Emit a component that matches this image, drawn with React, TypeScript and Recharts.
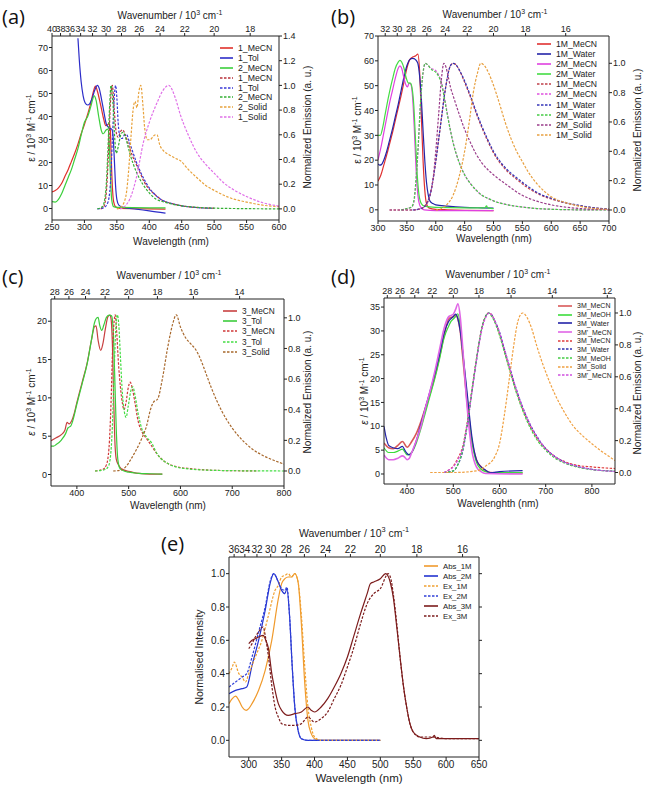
import React from 'react';
import { LineChart, Line, XAxis, YAxis } from 'recharts';

type Pt = [number, number];

const FONT = '"Liberation Sans", Arial, sans-serif';

// ---------- (a) ----------
const aXTicks = [250, 300, 350, 400, 450, 500, 550, 600];
const aLTicks = [0, 10, 20, 30, 40, 50, 60, 70];
const aRTicks = [0, 0.2, 0.4, 0.6, 0.8, 1.0, 1.2, 1.4];
const aWn = [40, 38, 36, 34, 32, 30, 28, 26, 24, 22, 20, 18];

const aAbs1MeCN: Pt[] = [[250, 7.2], [255, 7.8], [260, 9], [265, 11], [270, 14], [275, 17], [280, 20.5], [285, 24], [290, 28], [295, 32.5], [300, 36.5], [305, 41], [310, 46], [314, 51], [317, 53.2], [320, 51], [325, 45], [330, 38.5], [333, 36], [336, 36.5], [338, 37], [340, 34], [341, 25], [343, 10], [345, 3], [348, 0.8], [355, 0], [380, -0.1], [425, -0.3]];
const aAbs1Tol: Pt[] = [[290, 74], [292, 65], [295, 55], [298, 49], [301, 46], [305, 45], [308, 45.5], [312, 48], [316, 51.5], [320, 53.5], [323, 52], [326, 48], [330, 42], [334, 36.5], [338, 35], [342, 34.5], [344, 32], [346, 22], [348, 10], [350, 4], [353, 1.5], [360, 0.5], [380, -0.3], [400, -1], [425, -2]];
const aAbs2MeCN: Pt[] = [[250, 3], [255, 2.8], [260, 4], [265, 6.5], [270, 10], [275, 13.5], [280, 17], [285, 21.5], [290, 26], [295, 32], [300, 37.5], [305, 40], [310, 44.5], [315, 49], [318, 47], [322, 40], [326, 34], [329, 32.5], [333, 34], [336, 34.5], [338, 30], [340, 15], [342, 4], [345, 0.8], [350, 0.5], [400, 0.3], [425, 0.3]];
const aEm1MeCN: Pt[] = [[325, 0], [330, 0.02], [334, 0.15], [337, 0.45], [340, 0.85], [343, 1.0], [346, 0.8], [349, 0.62], [352, 0.58], [356, 0.63], [359, 0.64], [363, 0.6], [368, 0.52], [374, 0.43], [380, 0.36], [386, 0.29], [392, 0.22], [400, 0.16], [410, 0.11], [420, 0.07], [430, 0.05], [450, 0.025], [475, 0.01], [500, 0.005]];
const aEm1Tol: Pt[] = [[320, 0], [330, 0.01], [336, 0.05], [340, 0.2], [343, 0.55], [346, 0.9], [348, 1.0], [350, 0.9], [352, 0.7], [355, 0.58], [358, 0.57], [362, 0.6], [365, 0.6], [370, 0.53], [380, 0.38], [390, 0.26], [400, 0.17], [410, 0.11], [420, 0.07], [430, 0.05], [450, 0.025], [475, 0.01], [500, 0.005]];
const aEm2MeCN: Pt[] = [[320, 0], [328, 0.02], [333, 0.15], [336, 0.45], [339, 0.85], [341, 1.0], [344, 0.85], [347, 0.55], [349, 0.45], [352, 0.5], [356, 0.6], [359, 0.62], [362, 0.6], [366, 0.53], [370, 0.45], [380, 0.3], [390, 0.2], [400, 0.13], [410, 0.08], [420, 0.06], [430, 0.045], [450, 0.025], [475, 0.012], [500, 0.006], [550, 0.002], [600, 0]];
const aEm2Solid: Pt[] = [[350, 0], [355, 0.01], [360, 0.04], [365, 0.14], [368, 0.3], [372, 0.6], [375, 0.8], [378, 0.87], [381, 0.82], [384, 0.95], [387, 1.0], [390, 0.85], [393, 0.65], [397, 0.56], [401, 0.56], [405, 0.58], [409, 0.6], [412, 0.6], [416, 0.52], [422, 0.47], [430, 0.44], [440, 0.41], [448, 0.39], [460, 0.32], [474, 0.25], [487, 0.19], [500, 0.15], [515, 0.11], [530, 0.08], [550, 0.055], [575, 0.03], [600, 0.018]];
const aEm1Solid: Pt[] = [[355, 0], [362, 0.02], [370, 0.08], [380, 0.25], [391, 0.54], [400, 0.7], [412, 0.86], [420, 0.95], [430, 1.0], [440, 0.9], [448, 0.76], [460, 0.6], [474, 0.45], [487, 0.36], [500, 0.29], [515, 0.21], [530, 0.155], [550, 0.1], [575, 0.05], [600, 0.022]];

// ---------- (b) ----------
const bXTicks = [300, 350, 400, 450, 500, 550, 600, 650, 700];
const bLTicks = [0, 10, 20, 30, 40, 50, 60, 70];
const bRTicks = [0, 0.2, 0.4, 0.6, 0.8, 1.0];
const bWn = [32, 30, 28, 26, 24, 22, 20, 18, 16];

const bAbs1MMeCN: Pt[] = [[300, 11.5], [305, 14], [310, 18], [315, 22], [320, 26.5], [325, 31], [330, 36], [335, 41], [340, 46], [345, 51.5], [350, 57], [355, 60.5], [360, 61.5], [365, 62], [369, 62.7], [372, 56], [375, 38], [378, 20], [381, 8], [384, 2.5], [388, 0.8], [400, 0.2], [420, 0], [450, -0.2], [500, -0.3]];
const bAbs1MWater: Pt[] = [[300, 18.5], [303, 18], [306, 18.2], [310, 20], [315, 23.5], [320, 28], [325, 32.5], [330, 37.5], [335, 42.5], [340, 48], [345, 53.5], [350, 58], [355, 60.5], [360, 61], [365, 60.5], [369, 59], [372, 54], [375, 45], [378, 32], [381, 20], [384, 11], [387, 6], [390, 3.5], [395, 2.5], [400, 2], [420, 1.5], [450, 1], [480, 0.8], [500, 0.7]];
const bAbs2MMeCN: Pt[] = [[300, 20], [305, 25], [310, 31], [315, 37], [320, 43], [325, 48], [330, 53], [335, 57], [338, 58], [341, 57], [345, 53], [348, 50.5], [351, 49.5], [354, 51], [357, 50.5], [360, 45], [363, 32], [366, 16], [369, 6], [372, 2], [376, 0.5], [380, 0], [400, -0.3], [500, -0.3]];
const bAbs2MWater: Pt[] = [[300, 30], [304, 30], [308, 33], [312, 38], [316, 43], [320, 47.5], [325, 52.5], [330, 57], [335, 59.5], [338, 60.2], [341, 59.5], [345, 57], [349, 53], [353, 51], [356, 51], [359, 49], [362, 42], [365, 28], [368, 14], [371, 6], [375, 2.5], [380, 1.5], [400, 1], [450, 0.8], [485, 0.8], [488, 1.6], [490, 0.8], [500, 0.5]];
const bEm1MMeCN: Pt[] = [[320, 0], [360, 0], [375, 0.01], [385, 0.05], [390, 0.1], [395, 0.2], [400, 0.33], [405, 0.48], [410, 0.63], [415, 0.78], [420, 0.9], [425, 0.98], [430, 1.0], [435, 0.99], [440, 0.96], [450, 0.87], [460, 0.77], [470, 0.66], [480, 0.56], [490, 0.47], [500, 0.39], [520, 0.28], [540, 0.21], [560, 0.15], [580, 0.105], [600, 0.075], [625, 0.048], [650, 0.028], [675, 0.014], [700, 0.006]];
const bEm2MMeCN: Pt[] = [[340, 0], [350, 0.01], [358, 0.02], [362, 0.05], [366, 0.2], [370, 0.45], [374, 0.75], [378, 0.93], [382, 1.0], [386, 0.99], [390, 0.97], [395, 0.96], [400, 0.95], [405, 0.92], [410, 0.87], [415, 0.77], [420, 0.66], [425, 0.55], [430, 0.46], [440, 0.33], [450, 0.24], [460, 0.18], [470, 0.135], [480, 0.1], [490, 0.08], [500, 0.062], [525, 0.035], [550, 0.02], [575, 0.01], [600, 0.005], [650, 0.001], [700, 0]];
const bEm1MWater: Pt[] = [[360, 0], [375, 0.01], [385, 0.05], [390, 0.1], [395, 0.2], [400, 0.33], [405, 0.48], [410, 0.63], [415, 0.78], [420, 0.9], [425, 0.98], [430, 1.0], [435, 0.99], [440, 0.96], [450, 0.88], [460, 0.78], [470, 0.67], [480, 0.57], [490, 0.48], [500, 0.4], [520, 0.29], [540, 0.22], [560, 0.16], [580, 0.11], [600, 0.08], [625, 0.05], [650, 0.03], [675, 0.015], [700, 0.006]];
const bEm2MWater: Pt[] = [[340, 0], [350, 0.01], [358, 0.02], [362, 0.06], [366, 0.22], [370, 0.47], [374, 0.76], [378, 0.94], [382, 1.0], [386, 0.99], [390, 0.97], [395, 0.95], [400, 0.94], [405, 0.91], [410, 0.86], [415, 0.76], [420, 0.65], [425, 0.55], [430, 0.46], [440, 0.33], [450, 0.24], [460, 0.18], [470, 0.135], [480, 0.1], [490, 0.08], [500, 0.062], [525, 0.035], [550, 0.02], [575, 0.01], [600, 0.005], [650, 0.001], [700, 0]];
const bEm2MSolid: Pt[] = [[320, 0], [360, 0], [370, 0.005], [380, 0.02], [390, 0.1], [395, 0.2], [400, 0.4], [405, 0.65], [410, 0.9], [414, 1.0], [418, 0.97], [422, 0.9], [426, 0.83], [430, 0.78], [440, 0.66], [450, 0.55], [460, 0.46], [470, 0.38], [480, 0.32], [500, 0.24], [520, 0.18], [550, 0.1], [575, 0.06], [600, 0.035], [650, 0.01], [700, 0.003]];
const bEm1MSolid: Pt[] = [[400, 0], [410, 0.01], [420, 0.04], [430, 0.1], [440, 0.22], [450, 0.4], [458, 0.6], [465, 0.8], [472, 0.93], [478, 1.0], [485, 0.98], [492, 0.93], [500, 0.85], [510, 0.73], [520, 0.6], [530, 0.49], [540, 0.4], [550, 0.33], [560, 0.26], [575, 0.18], [590, 0.12], [600, 0.09], [625, 0.05], [650, 0.025], [675, 0.01], [700, 0.004]];

// ---------- (c) ----------
const cXTicks = [400, 500, 600, 700, 800];
const cLTicks = [0, 5, 10, 15, 20];
const cRTicks = [0, 0.2, 0.4, 0.6, 0.8, 1.0];
const cWn = [28, 26, 24, 22, 20, 18, 16, 14];

const cAbs3MeCN: Pt[] = [[350, 4.4], [360, 4.8], [370, 5.2], [377, 5.8], [381, 6.8], [385, 6.6], [390, 7.0], [395, 8], [400, 9.4], [410, 12], [420, 14.6], [428, 17.5], [434, 19.3], [437, 19.4], [441, 17.5], [446, 16.2], [450, 17], [455, 19], [460, 20.6], [464, 20.8], [466, 20.3], [469, 16], [471, 10], [473, 5], [476, 2], [480, 1.3], [485, 0.8], [490, 0.6], [500, 0.4], [510, 0.25], [520, 0.15], [540, 0.05], [565, 0.05]];
const cAbs3Tol: Pt[] = [[350, 3.7], [355, 3.7], [360, 3.9], [370, 4.5], [378, 5.3], [383, 6.1], [388, 6.3], [392, 7], [400, 9.2], [410, 11.8], [420, 14.5], [428, 17.5], [434, 19.8], [438, 20.4], [441, 20.5], [444, 19.5], [448, 18.8], [452, 19.5], [457, 20.5], [462, 20.8], [467, 20.7], [470, 19], [473, 13], [476, 6], [479, 2], [483, 0.8], [490, 0.5], [500, 0.3], [520, 0.15], [540, 0.1], [565, 0.05]];
const cEm3MeCN: Pt[] = [[435, 0], [450, 0.01], [457, 0.04], [462, 0.15], [466, 0.45], [469, 0.8], [472, 0.98], [474, 1.02], [477, 0.9], [480, 0.72], [484, 0.55], [488, 0.44], [491, 0.4], [495, 0.45], [499, 0.54], [503, 0.58], [507, 0.54], [512, 0.45], [518, 0.33], [525, 0.26], [535, 0.21], [545, 0.16], [555, 0.11], [570, 0.06], [590, 0.03], [620, 0.015], [660, 0.005], [700, 0.002], [750, 0]];
const cEm3Tol: Pt[] = [[435, 0], [455, 0.01], [462, 0.04], [468, 0.25], [472, 0.65], [475, 0.92], [478, 1.02], [481, 0.95], [484, 0.75], [488, 0.5], [492, 0.38], [495, 0.35], [499, 0.42], [504, 0.52], [508, 0.55], [512, 0.5], [518, 0.38], [525, 0.28], [535, 0.22], [545, 0.18], [552, 0.13], [560, 0.09], [575, 0.05], [600, 0.02], [650, 0.006], [700, 0.002], [800, 0]];
const cEm3Solid: Pt[] = [[470, 0], [485, 0.005], [495, 0.03], [505, 0.08], [515, 0.14], [525, 0.21], [535, 0.3], [542, 0.4], [548, 0.45], [556, 0.47], [565, 0.6], [575, 0.8], [585, 0.96], [592, 1.02], [600, 0.94], [610, 0.87], [620, 0.83], [630, 0.79], [640, 0.72], [650, 0.63], [660, 0.54], [670, 0.46], [680, 0.39], [700, 0.28], [720, 0.2], [740, 0.14], [760, 0.1], [780, 0.07], [800, 0.045]];

// ---------- (d) ----------
const dXTicks = [400, 500, 600, 700, 800];
const dLTicks = [0, 5, 10, 15, 20, 25, 30, 35];
const dRTicks = [0, 0.2, 0.4, 0.6, 0.8, 1.0];
const dWn = [28, 26, 24, 22, 20, 18, 16, 14, 12];

const dAbs3MMeCN: Pt[] = [[350, 6.5], [360, 5.5], [370, 5.3], [380, 6], [390, 6.8], [400, 5.6], [410, 6.8], [420, 8.5], [430, 11], [440, 14], [450, 17], [460, 20.5], [470, 24.5], [480, 29], [490, 32.5], [500, 33], [505, 33.3], [510, 32.5], [515, 30], [520, 25], [530, 15], [540, 7], [550, 3], [560, 1.5], [570, 0.7], [580, 0.3], [600, 0.2], [650, 0.2]];
const dAbs3MMeOH: Pt[] = [[350, 5.5], [360, 4.5], [370, 4.5], [380, 4.8], [390, 5.2], [400, 4], [410, 4.5], [420, 6.5], [430, 9.5], [440, 13], [450, 16.5], [460, 20], [470, 24], [480, 28.5], [490, 31], [495, 32], [500, 32.5], [505, 33], [510, 33.6], [515, 31], [520, 26], [530, 16], [540, 7], [550, 2.5], [560, 1], [570, 0.5], [580, 0.3], [650, 0.3]];
const dAbs3MWater: Pt[] = [[350, 10], [355, 7.5], [360, 6], [370, 5.5], [380, 5.3], [390, 5.8], [395, 5], [400, 4.3], [405, 4], [410, 4.5], [420, 7], [430, 10.5], [440, 14], [450, 17.5], [460, 21], [470, 25], [480, 29.5], [490, 32], [500, 33], [505, 33.5], [510, 32.5], [515, 30], [520, 26], [530, 17], [540, 8], [550, 3], [560, 1.5], [570, 0.8], [580, 0.3], [600, 0.5], [650, 0.7]];
const dAbs3pMeCN: Pt[] = [[350, 4], [360, 3], [370, 3], [380, 3.3], [390, 3.8], [395, 3.5], [400, 3], [405, 3.3], [410, 4.5], [420, 7], [430, 10], [440, 14], [450, 17.5], [460, 21.5], [470, 26], [480, 30.5], [490, 33], [500, 33.5], [505, 34.5], [510, 35.7], [515, 33], [520, 27], [530, 14], [540, 5], [550, 1.5], [560, 0.5], [570, 0.1], [650, 0]];
const dEm3MMeCN: Pt[] = [[480, 0], [490, 0.015], [500, 0.04], [510, 0.09], [520, 0.16], [530, 0.31], [540, 0.51], [550, 0.71], [560, 0.88], [570, 0.98], [577, 1.0], [585, 0.98], [590, 0.95], [600, 0.87], [610, 0.77], [620, 0.67], [630, 0.57], [640, 0.48], [650, 0.4], [660, 0.33], [670, 0.27], [680, 0.22], [700, 0.15], [720, 0.1], [740, 0.07], [760, 0.05], [800, 0.035], [850, 0.025]];
const dEm3MWater: Pt[] = [[480, 0], [500, 0.01], [510, 0.05], [520, 0.13], [530, 0.29], [540, 0.5], [550, 0.7], [560, 0.88], [570, 0.98], [577, 1.0], [585, 0.98], [590, 0.95], [600, 0.88], [610, 0.78], [620, 0.68], [630, 0.58], [640, 0.49], [650, 0.41], [660, 0.34], [670, 0.28], [680, 0.23], [700, 0.15], [720, 0.1], [740, 0.065], [760, 0.045], [800, 0.02], [850, 0.008]];
const dEm3MMeOH: Pt[] = [[480, 0], [500, 0.01], [510, 0.05], [520, 0.14], [530, 0.3], [540, 0.51], [550, 0.71], [560, 0.88], [570, 0.98], [576, 1.0], [585, 0.97], [590, 0.94], [600, 0.86], [610, 0.76], [620, 0.66], [630, 0.56], [640, 0.47], [650, 0.39], [660, 0.32], [670, 0.26], [680, 0.21], [700, 0.14], [720, 0.09], [740, 0.06], [760, 0.04], [800, 0.018], [850, 0.008]];
const dEm3MSolid: Pt[] = [[450, 0], [500, 0], [550, 0.01], [570, 0.04], [590, 0.1], [600, 0.18], [610, 0.35], [620, 0.56], [630, 0.78], [640, 0.95], [650, 1.0], [660, 0.97], [670, 0.9], [680, 0.8], [690, 0.71], [700, 0.63], [720, 0.49], [740, 0.38], [760, 0.29], [780, 0.23], [800, 0.18], [820, 0.135], [840, 0.095], [850, 0.075]];
const dEm3pMeCN: Pt[] = [[480, 0], [490, 0.015], [500, 0.035], [510, 0.08], [520, 0.15], [530, 0.3], [540, 0.5], [550, 0.7], [560, 0.87], [570, 0.97], [578, 1.0], [585, 0.98], [590, 0.95], [600, 0.88], [610, 0.78], [620, 0.68], [630, 0.58], [640, 0.49], [650, 0.41], [660, 0.34], [670, 0.28], [680, 0.23], [700, 0.15], [720, 0.1], [740, 0.065], [760, 0.045], [800, 0.02], [850, 0.006]];

// ---------- (e) ----------
const eXTicks = [300, 350, 400, 450, 500, 550, 600, 650];
const eYTicks = [0, 0.2, 0.4, 0.6, 0.8, 1.0];
const eWn = [36, 34, 32, 30, 28, 26, 24, 22, 20, 18, 16];

const eAbs1M: Pt[] = [[270, 0.22], [275, 0.25], [280, 0.265], [285, 0.24], [290, 0.2], [296, 0.18], [300, 0.19], [305, 0.22], [315, 0.3], [325, 0.42], [335, 0.6], [345, 0.85], [350, 0.94], [355, 0.97], [360, 0.98], [365, 0.98], [370, 1.0], [375, 0.95], [380, 0.7], [385, 0.35], [390, 0.12], [395, 0.04], [400, 0.01], [410, 0], [500, 0]];
const eAbs2M: Pt[] = [[270, 0.28], [280, 0.3], [290, 0.31], [297, 0.32], [305, 0.45], [315, 0.6], [325, 0.78], [333, 0.95], [338, 1.0], [345, 0.95], [350, 0.9], [355, 0.88], [358, 0.91], [362, 0.75], [366, 0.45], [370, 0.2], [375, 0.06], [380, 0.01], [390, 0], [500, 0]];
const eEx1M: Pt[] = [[270, 0.4], [275, 0.44], [278, 0.47], [285, 0.4], [290, 0.38], [295, 0.35], [300, 0.4], [310, 0.5], [320, 0.6], [330, 0.75], [340, 0.9], [345, 0.93], [350, 0.98], [355, 0.99], [360, 1.0], [365, 0.98], [370, 1.0], [375, 0.95], [380, 0.75], [385, 0.45], [390, 0.2], [395, 0.08], [400, 0.02], [410, 0], [500, 0]];
const eEx2M: Pt[] = [[270, 0.32], [280, 0.35], [290, 0.38], [297, 0.4], [305, 0.5], [315, 0.65], [325, 0.8], [333, 0.96], [338, 1.0], [345, 0.95], [350, 0.91], [355, 0.9], [358, 0.92], [362, 0.75], [366, 0.45], [370, 0.2], [375, 0.06], [380, 0.01], [390, 0], [500, 0]];
const eAbs3M: Pt[] = [[300, 0.58], [305, 0.6], [310, 0.61], [315, 0.62], [322, 0.63], [326, 0.6], [330, 0.55], [335, 0.4], [340, 0.3], [345, 0.22], [350, 0.18], [360, 0.15], [370, 0.16], [380, 0.17], [390, 0.2], [395, 0.18], [400, 0.17], [410, 0.2], [420, 0.25], [430, 0.32], [440, 0.4], [450, 0.5], [460, 0.63], [470, 0.76], [480, 0.88], [485, 0.94], [490, 0.95], [500, 0.97], [508, 1.0], [515, 0.95], [520, 0.85], [525, 0.68], [530, 0.5], [535, 0.33], [540, 0.2], [545, 0.1], [550, 0.05], [560, 0.02], [570, 0.01], [580, 0.02], [582, 0.03], [585, 0.01], [600, 0.01], [650, 0.01]];
const eEx3M: Pt[] = [[300, 0.55], [305, 0.58], [310, 0.62], [315, 0.65], [322, 0.68], [325, 0.63], [330, 0.5], [335, 0.33], [340, 0.2], [345, 0.14], [350, 0.1], [360, 0.09], [370, 0.09], [380, 0.1], [390, 0.14], [400, 0.11], [410, 0.13], [420, 0.17], [430, 0.25], [440, 0.33], [450, 0.44], [460, 0.56], [470, 0.7], [480, 0.82], [490, 0.88], [500, 0.91], [512, 1.0], [516, 0.97], [520, 0.87], [525, 0.7], [530, 0.5], [535, 0.33], [540, 0.2], [545, 0.1], [550, 0.05], [560, 0.02], [580, 0.02], [600, 0.01], [650, 0.01]];

interface Series { name: string; data: Pt[]; color: string; dash?: boolean; axis: 'L' | 'R'; width?: number }
interface Title { text: React.ReactNode; x: number; y: number; rot?: number; size: number }
interface Panel {
  letter: string; letterPos: [number, number];
  box: [number, number, number, number];
  x: [number, number]; xTicks: number[];
  yL: [number, number]; yLTicks: number[];
  yR: [number, number]; yRTicks: number[]; rightLabels: boolean;
  wn: number[];
  tick: number;
  series: Series[];
  legend: { x: number; y: number; step: number; size: number; len: number };
  titles: Title[];
}

const sup = (s: string) => <sup style={{ fontSize: '70%', lineHeight: 0 }}>{s}</sup>;
const wnTitle = <span>Wavenumber / 10{sup('3')} cm{sup('-1')}</span>;
const epsTitle = (italic: boolean) => (
  <span><span style={{ fontStyle: italic ? 'italic' : 'normal' }}>ε</span> / 10{sup('3')} M{sup('-1')} cm{sup('-1')}</span>
);

const panels: Panel[] = [
  {
    letter: '(a)', letterPos: [2, 3], box: [52, 36, 279, 220],
    x: [250, 600], xTicks: aXTicks, yL: [-5, 75], yLTicks: aLTicks, yR: [-0.09, 1.4], yRTicks: aRTicks, rightLabels: true,
    wn: aWn, tick: 9,
    series: [
      { name: '1_MeCN', data: aAbs1MeCN, color: '#e0302a', axis: 'L' },
      { name: '1_Tol', data: aAbs1Tol, color: '#2c2cc8', axis: 'L' },
      { name: '2_MeCN', data: aAbs2MeCN, color: '#3ccf3c', axis: 'L' },
      { name: '1_MeCN', data: aEm1MeCN, color: '#b8303a', dash: true, axis: 'R' },
      { name: '1_Tol', data: aEm1Tol, color: '#3a3ad8', dash: true, axis: 'R' },
      { name: '2_MeCN', data: aEm2MeCN, color: '#34b034', dash: true, axis: 'R' },
      { name: '2_Solid', data: aEm2Solid, color: '#e8a23c', dash: true, axis: 'R' },
      { name: '1_Solid', data: aEm1Solid, color: '#e070e8', dash: true, axis: 'R' },
    ],
    legend: { x: 220, y: 48, step: 9.9, size: 8.7, len: 13 },
    titles: [
      { text: wnTitle, x: 170, y: 16, size: 10 },
      { text: 'Wavelength (nm)', x: 171, y: 242, size: 10 },
      { text: epsTitle(false), x: 32, y: 128, rot: -90, size: 10 },
      { text: 'Normalized Emission (a. u.)', x: 308, y: 127, rot: -90, size: 10 },
    ],
  },
  {
    letter: '(b)', letterPos: [331, 3], box: [378, 36, 609, 221],
    x: [300, 700], xTicks: bXTicks, yL: [-4.5, 70], yLTicks: bLTicks, yR: [-0.075, 1.186], yRTicks: bRTicks, rightLabels: true,
    wn: bWn, tick: 9,
    series: [
      { name: '1M_MeCN', data: bAbs1MMeCN, color: '#e03030', axis: 'L' },
      { name: '1M_Water', data: bAbs1MWater, color: '#2424a8', axis: 'L' },
      { name: '2M_MeCN', data: bAbs2MMeCN, color: '#e040e0', axis: 'L' },
      { name: '2M_Water', data: bAbs2MWater, color: '#44dd44', axis: 'L' },
      { name: '1M_MeCN', data: bEm1MMeCN, color: '#c0404a', dash: true, axis: 'R' },
      { name: '2M_MeCN', data: bEm2MMeCN, color: '#e050e0', dash: true, axis: 'R' },
      { name: '1M_Water', data: bEm1MWater, color: '#3434b8', dash: true, axis: 'R' },
      { name: '2M_Water', data: bEm2MWater, color: '#44cc44', dash: true, axis: 'R' },
      { name: '2M_Solid', data: bEm2MSolid, color: '#9a3c8a', dash: true, axis: 'R' },
      { name: '1M_Solid', data: bEm1MSolid, color: '#e8a040', dash: true, axis: 'R' },
    ],
    legend: { x: 537, y: 44, step: 10.1, size: 8.6, len: 14 },
    titles: [
      { text: wnTitle, x: 495, y: 15, size: 10 },
      { text: 'Wavelength (nm)', x: 494, y: 239, size: 10 },
      { text: epsTitle(false), x: 358, y: 130, rot: -90, size: 10 },
      { text: 'Normalized Emission (a. u.)', x: 638, y: 130, rot: -90, size: 10 },
    ],
  },
  {
    letter: '(c)', letterPos: [2, 263], box: [51, 299, 284, 486],
    x: [350, 800], xTicks: cXTicks, yL: [-1.5, 22.9], yLTicks: cLTicks, yR: [-0.098, 1.123], yRTicks: cRTicks, rightLabels: true,
    wn: cWn, tick: 9,
    series: [
      { name: '3_MeCN', data: cAbs3MeCN, color: '#c84040', axis: 'L' },
      { name: '3_Tol', data: cAbs3Tol, color: '#3ccc3c', axis: 'L' },
      { name: '3_MeCN', data: cEm3MeCN, color: '#d03838', dash: true, axis: 'R' },
      { name: '3_Tol', data: cEm3Tol, color: '#44dd44', dash: true, axis: 'R' },
      { name: '3_Solid', data: cEm3Solid, color: '#a8682c', dash: true, axis: 'R' },
    ],
    legend: { x: 223, y: 311, step: 10.2, size: 8.3, len: 14 },
    titles: [
      { text: wnTitle, x: 169, y: 276, size: 10 },
      { text: 'Wavelength (nm)', x: 168, y: 506, size: 10 },
      { text: epsTitle(true), x: 32, y: 402, rot: -90, size: 10 },
      { text: 'Normalized Emission (a. u.)', x: 308, y: 392, rot: -90, size: 10 },
    ],
  },
  {
    letter: '(d)', letterPos: [331, 263], box: [384, 298, 615, 484],
    x: [350, 850], xTicks: dXTicks, yL: [-2.1, 36.9], yLTicks: dLTicks, yR: [-0.072, 1.094], yRTicks: dRTicks, rightLabels: true,
    wn: dWn, tick: 9,
    series: [
      { name: '3M_MeCN', data: dAbs3MMeCN, color: '#d85858', axis: 'L', width: 1.6 },
      { name: '3M_MeOH', data: dAbs3MMeOH, color: '#3cdc3c', axis: 'L' },
      { name: '3M_Water', data: dAbs3MWater, color: '#2424a8', axis: 'L' },
      { name: "3M'_MeCN", data: dAbs3pMeCN, color: '#e066e6', axis: 'L', width: 1.6 },
      { name: '3M_MeCN', data: dEm3MMeCN, color: '#e03c3c', dash: true, axis: 'R' },
      { name: '3M_Water', data: dEm3MWater, color: '#3030b0', dash: true, axis: 'R' },
      { name: '3M_MeOH', data: dEm3MMeOH, color: '#44cc44', dash: true, axis: 'R' },
      { name: '3M_Solid', data: dEm3MSolid, color: '#f0a040', dash: true, axis: 'R' },
      { name: "3M'_MeCN", data: dEm3pMeCN, color: '#d050e0', dash: true, axis: 'R' },
    ],
    legend: { x: 558, y: 306, step: 8.7, size: 7, len: 14 },
    titles: [
      { text: wnTitle, x: 498, y: 275, size: 10 },
      { text: 'Wavelenghth (nm)', x: 498, y: 504, size: 10 },
      { text: epsTitle(true), x: 365, y: 391, rot: -90, size: 10 },
      { text: 'Normalized Emission (a. u.)', x: 638, y: 393, rot: -90, size: 10 },
    ],
  },
  {
    letter: '(e)', letterPos: [161, 530], box: [229, 557, 479, 757],
    x: [270, 650], xTicks: eXTicks, yL: [-0.1, 1.1], yLTicks: eYTicks, yR: [-0.1, 1.1], yRTicks: eYTicks, rightLabels: false,
    wn: eWn, tick: 10,
    series: [
      { name: 'Abs_1M', data: eAbs1M, color: '#f09a2c', axis: 'L' },
      { name: 'Abs_2M', data: eAbs2M, color: '#2434d0', axis: 'L' },
      { name: 'Ex_1M', data: eEx1M, color: '#f0a030', dash: true, axis: 'L' },
      { name: 'Ex_2M', data: eEx2M, color: '#3040d8', dash: true, axis: 'L' },
      { name: 'Abs_3M', data: eAbs3M, color: '#7c1c1c', axis: 'L' },
      { name: 'Ex_3M', data: eEx3M, color: '#7c1c1c', dash: true, axis: 'L' },
    ],
    legend: { x: 424, y: 566, step: 10, size: 7.8, len: 14 },
    titles: [
      { text: wnTitle, x: 354, y: 533, size: 10.5 },
      { text: 'Wavelength (nm)', x: 359, y: 779, size: 11.5 },
      { text: 'Normalised Intensity', x: 199, y: 657, rot: -90, size: 10.5 },
    ],
  },
];

const toObj = (d: Pt[]) => d.map(([x, y]) => ({ x, y }));
const fmt1 = (v: number) => v.toFixed(1);
const blank = () => '';

// minor tick positions halfway between the labelled ones
function minorLinear(ticks: number[], dom: [number, number]) {
  const s = ticks[1] - ticks[0];
  const out: number[] = [];
  for (let v = ticks[0] - s / 2; v >= dom[0] - 1e-9; v -= s) out.push(v);
  for (let v = ticks[0] + s / 2; v <= dom[1] + 1e-9; v += s) out.push(v);
  return out;
}
function minorWn(wn: number[], dom: [number, number]) {
  const odd = new Set<number>();
  wn.forEach((w) => { odd.add(w - 1); odd.add(w + 1); });
  return [...odd].filter((w) => !wn.includes(w)).map((w) => 1e4 / w).filter((v) => v >= dom[0] && v <= dom[1]);
}

function Txt({ t }: { t: Title }) {
  return (
    <div
      style={{
        position: 'absolute', left: t.x, top: t.y, fontSize: t.size, fontFamily: FONT, color: '#222',
        whiteSpace: 'nowrap', lineHeight: 1, transform: `translate(-50%, -50%) rotate(${t.rot || 0}deg)`,
      }}
    >
      {t.text}
    </div>
  );
}

function Legend({ p }: { p: Panel }) {
  const { x, y, step, size, len } = p.legend;
  return (
    <div style={{ position: 'absolute', left: x, top: y - step / 2, fontFamily: FONT, fontSize: size, color: '#222' }}>
      {p.series.map((s, i) => (
        <div key={i} style={{ height: step, display: 'flex', alignItems: 'center', whiteSpace: 'nowrap' }}>
          <svg width={len + 3} height={4} style={{ marginRight: 2 }}>
            <line x1={0} y1={2} x2={len} y2={2} stroke={s.color} strokeWidth={s.dash ? 1.3 : 1.6} strokeDasharray={s.dash ? '2.5 1.5' : undefined} />
          </svg>
          <span>{s.name}</span>
        </div>
      ))}
    </div>
  );
}

function PanelChart({ p }: { p: Panel }) {
  const [l, t, r, b] = p.box;
  const LW = 40, RW = 40, TH = 22, BH = 22;
  const tickStyle = { fontSize: p.tick, fill: '#222', fontFamily: FONT };
  const axisCommon = { stroke: '#222', tickSize: 3, tickMargin: 1, interval: 0 as const, allowDataOverflow: true, tick: tickStyle };
  const minorCommon = { stroke: '#222', tickSize: 2, interval: 0 as const, allowDataOverflow: true, mirror: true, axisLine: false, tickFormatter: blank };
  return (
    <>
      <div style={{ position: 'absolute', left: l - LW, top: t - TH }}>
        <LineChart width={r - l + LW + RW} height={b - t + TH + BH} margin={{ top: 0, right: 0, bottom: 0, left: 0 }}>
          <XAxis xAxisId="bmin" type="number" dataKey="x" domain={p.x} ticks={minorLinear(p.xTicks, p.x)} height={0} {...minorCommon} />
          <XAxis xAxisId="tmin" orientation="top" type="number" dataKey="x" domain={p.x} ticks={minorWn(p.wn, p.x)} height={0} {...minorCommon} />
          <YAxis yAxisId="Lmin" type="number" domain={p.yL} ticks={minorLinear(p.yLTicks, p.yL)} width={0} {...minorCommon} />
          <YAxis yAxisId="Rmin" orientation="right" type="number" domain={p.yR} ticks={minorLinear(p.yRTicks, p.yR)} width={0} {...minorCommon} />
          <XAxis xAxisId="bottom" type="number" dataKey="x" domain={p.x} ticks={p.xTicks} height={BH} {...axisCommon} />
          <XAxis
            xAxisId="top" orientation="top" type="number" dataKey="x" domain={p.x}
            ticks={p.wn.map((k) => 1e4 / k)} tickFormatter={(v: number) => String(Math.round(1e4 / v))}
            height={TH} {...axisCommon}
          />
          <YAxis yAxisId="L" type="number" domain={p.yL} ticks={p.yLTicks} width={LW} {...axisCommon}
            tickFormatter={p.yLTicks[p.yLTicks.length - 1] <= 2 ? fmt1 : undefined} />
          <YAxis yAxisId="R" orientation="right" type="number" domain={p.yR} ticks={p.yRTicks} width={RW} {...axisCommon}
            tickFormatter={p.rightLabels ? fmt1 : blank} />
          {p.series.map((s, i) => (
            <Line
              key={i}
              xAxisId="bottom"
              yAxisId={s.axis}
              data={toObj(s.data)}
              dataKey="y"
              type="monotone"
              stroke={s.color}
              strokeWidth={s.width || 1.2}
              strokeDasharray={s.dash ? '2.5 1.5' : undefined}
              dot={false}
              activeDot={false}
              isAnimationActive={false}
            />
          ))}
        </LineChart>
      </div>
      <Legend p={p} />
      {p.titles.map((tt, i) => <Txt key={i} t={tt} />)}
      <div style={{ position: 'absolute', left: p.letterPos[0], top: p.letterPos[1], fontFamily: '"Open Sans", "Liberation Sans", sans-serif', fontSize: 20, color: '#111' }}>
        {p.letter}
      </div>
    </>
  );
}

export default function App() {
  return (
    <div style={{ position: 'absolute', left: 0, top: 0, width: 646, height: 790, background: '#fff', overflow: 'hidden' }}>
      {panels.map((p, i) => <PanelChart key={i} p={p} />)}
    </div>
  );
}
